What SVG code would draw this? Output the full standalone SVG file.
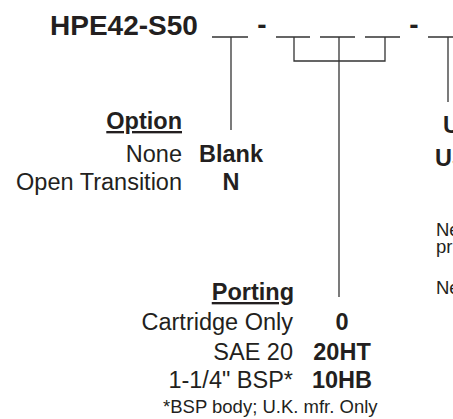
<svg xmlns="http://www.w3.org/2000/svg" width="453" height="419" viewBox="0 0 453 419">
<style>
text{font-family:"Liberation Sans",Arial,sans-serif;fill:#231f20}
.t{font-size:28px;font-weight:bold}
.l{font-size:23.5px}
.b{font-size:23.5px;font-weight:bold}
.h{font-size:23.5px;font-weight:bold;text-decoration:underline}
.n{font-size:18.5px}
.ln{stroke:#333;stroke-width:1.3;fill:none}
</style>
<rect width="453" height="419" fill="#fff"/>
<g id="title">
<text class="t" x="50" y="35">HPE42-S50</text>
<text class="t" x="262" y="34" text-anchor="middle">-</text>
<text class="t" x="414" y="34" text-anchor="middle">-</text>
<path class="ln" d="M212 37H248M276 37H310M320 37H355M365 37H400M428 37H460"/>
</g>
<g id="connectors">
<path class="ln" d="M231 37V130"/>
<path class="ln" d="M294 37V61H385V37"/>
<path class="ln" d="M339 37V297"/>
<path class="ln" d="M448 37V102"/>
</g>
<g id="option">
<text class="h" x="182" y="129" text-anchor="end">Option</text>
<text class="l" x="182" y="162" text-anchor="end">None</text>
<text class="l" x="182" y="190" text-anchor="end">Open Transition</text>
<text class="b" x="231" y="162" text-anchor="middle">Blank</text>
<text class="b" x="231" y="190" text-anchor="middle">N</text>
</g>
<g id="porting">
<text class="h" x="294" y="300" text-anchor="end">Porting</text>
<text class="l" x="293" y="330" text-anchor="end">Cartridge Only</text>
<text class="l" x="293" y="360" text-anchor="end">SAE 20</text>
<text class="l" x="293" y="388" text-anchor="end">1-1/4" BSP*</text>
<text class="b" x="342" y="330" text-anchor="middle">0</text>
<text class="b" x="342" y="360" text-anchor="middle">20HT</text>
<text class="b" x="342" y="388" text-anchor="middle">10HB</text>
<text class="n" x="163" y="413">*BSP body; U.K. mfr. Only</text>
</g>
<g id="right">
<text class="b" x="443" y="133">U</text>
<text class="b" x="435" y="166">US</text>
<text class="n" x="436" y="236">Ne</text>
<text class="n" x="436" y="253">pr</text>
<text class="n" x="436" y="294">Ne</text>
</g>
</svg>
